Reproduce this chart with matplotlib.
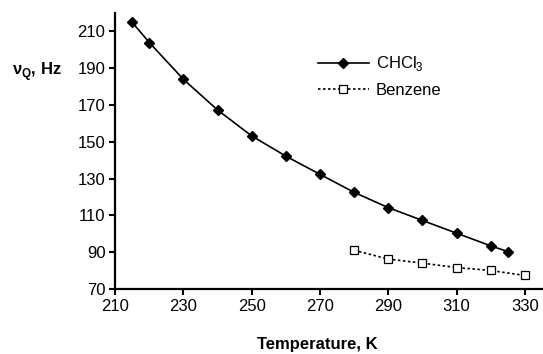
import matplotlib.pyplot as plt

plt.rcParams['font.family'] = ['Liberation Sans', 'DejaVu Sans']
plt.rcParams['mathtext.fontset'] = 'custom'
plt.rcParams['mathtext.rm'] = 'Liberation Sans'
plt.rcParams['mathtext.bf'] = 'Liberation Sans:bold'

temp_chcl3 = [215, 220, 230, 240, 250, 260, 270, 280, 290, 300, 310, 320, 325]
nu_chcl3 = [215, 204, 184, 167.3, 153.2, 142.2, 132.3, 122.5, 114.2, 107.2, 100.3, 93.4, 90.3]

temp_benz = [280, 290, 300, 310, 320, 330]
nu_benz = [91.0, 86.2, 84.0, 81.6, 80.0, 77.3]

xticks = [210, 230, 250, 270, 290, 310, 330]
yticks = [70, 90, 110, 130, 150, 170, 190, 210]

fig = plt.figure(figsize=(5.43, 3.54), dpi=100)
ax = fig.add_axes([0.212, 0.184, 0.786, 0.779])

ax.plot(temp_chcl3, nu_chcl3, color='black', lw=1.2, marker='D', ms=5.5,
        mfc='black', mec='black', label='CHCl$_3$')
ax.plot(temp_benz, nu_benz, color='black', lw=1.2, ls=(0, (1.5, 1.5)), marker='s', ms=6,
        mfc='white', mec='black', mew=0.9, label='Benzene')

ax.set_xlim(210, 335)
ax.set_ylim(70, 220)
ax.set_xticks(xticks)
ax.set_yticks(yticks)
ax.tick_params(labelsize=12, width=1.5, length=4, direction='out', pad=3)
for s in ['top', 'right']:
    ax.spines[s].set_visible(False)
for s in ['left', 'bottom']:
    ax.spines[s].set_linewidth(1.6)

fig.text(0.584, 1 - 344 / 354, 'Temperature, K', fontsize=12, fontweight='bold',
         ha='center', va='center')
fig.text(0.022, 1 - 72 / 354, r'ν$_\mathbf{Q}$, Hz', fontsize=12, fontweight='bold',
         ha='left', va='center')

ax.legend(loc='center left', bbox_to_anchor=(0.558, 1 - 76 / 354), bbox_transform=fig.transFigure,
          frameon=False, fontsize=12, handlelength=3.06, handletextpad=0.42, labelspacing=0.55)

fig.savefig('out.png', dpi=100)
